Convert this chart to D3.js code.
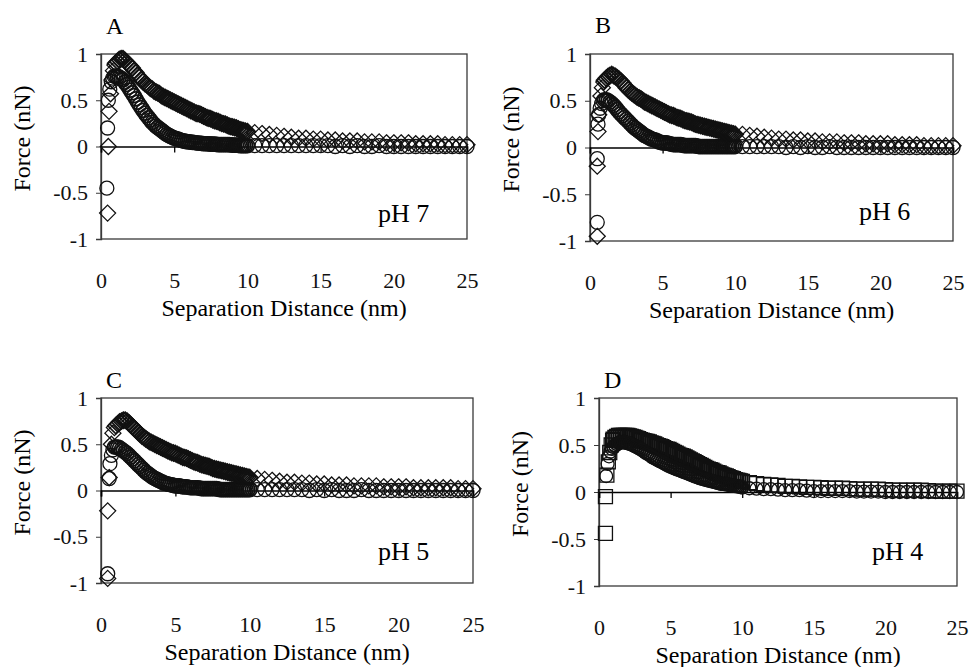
<!DOCTYPE html>
<html>
<head>
<meta charset="utf-8">
<script src="https://cdn.jsdelivr.net/npm/d3@7"></script>
<style>
  body { margin: 0; background: #fff; }
</style>
</head>
<body>
<div id="chart"></div>
<script>
// Shared separation distances (nm) for the dense part and the tail of each curve
var distDense = [1.000,1.125,1.250,1.375,1.500,1.625,1.750,1.875,2.000,2.125,
    2.250,2.375,2.500,2.625,2.750,2.875,3.000,3.125,3.250,3.375,
    3.500,3.625,3.750,3.875,4.000,4.125,4.250,4.375,4.500,4.625,
    4.750,4.875,5.000,5.125,5.250,5.375,5.500,5.625,5.750,5.875,
    6.000,6.125,6.250,6.375,6.500,6.625,6.750,6.875,7.000,7.125,
    7.250,7.375,7.500,7.625,7.750,7.875,8.000,8.125,8.250,8.375,
    8.500,8.625,8.750,8.875,9.000,9.125,9.250,9.375,9.500,9.625,
    9.750,9.875,10.000];
var distTail = [10.5,11,11.5,12,12.5,13,13.5,14,14.5,15,15.5,16,16.5,17,17.5,18,18.5,19,19.5,20,20.5,21,21.5,22,22.5,23,23.5,24,24.5,25];

var xTicks = [0, 5, 10, 15, 20, 25];
var yTicks = [-1, -0.5, 0, 0.5, 1];
var panelLetters = ["A", "B", "C", "D"];
var phLabels = ["pH 7", "pH 6", "pH 5", "pH 4"];

// pH 7 (A)
var aDiaRise = [[0.45,-0.72],[0.50,0.00],[0.55,0.38],[0.65,0.57],[0.75,0.72],[0.85,0.82],[0.95,0.88]];
var aDiaDense = [0.90,0.92,0.94,0.95,0.95,0.93,0.91,0.89,0.87,0.85,
    0.82,0.80,0.77,0.75,0.72,0.70,0.68,0.67,0.65,0.63,
    0.62,0.60,0.59,0.58,0.57,0.55,0.54,0.53,0.52,0.51,
    0.50,0.49,0.48,0.47,0.46,0.45,0.44,0.43,0.42,0.41,
    0.40,0.39,0.38,0.37,0.36,0.355,0.35,0.34,0.33,0.32,
    0.31,0.305,0.30,0.29,0.28,0.275,0.27,0.26,0.25,0.245,
    0.24,0.23,0.22,0.215,0.21,0.205,0.20,0.19,0.18,0.175,
    0.17,0.165,0.16];
var aDiaTail = [0.15,0.14,0.13,0.12,0.11,0.10,0.09,0.09,0.08,0.08,0.07,0.07,0.06,0.06,0.06,0.05,0.05,0.05,0.04,0.04,0.04,0.04,0.03,0.03,0.03,0.03,0.02,0.02,0.02,0.02];
var aCirRise = [[0.40,-0.45],[0.45,0.20],[0.50,0.50],[0.60,0.62],[0.70,0.70],[0.80,0.74],[0.90,0.76]];
var aCirDense = [0.76,0.755,0.75,0.735,0.72,0.695,0.67,0.64,0.61,0.58,
    0.55,0.515,0.48,0.45,0.42,0.39,0.36,0.335,0.31,0.285,
    0.26,0.24,0.22,0.205,0.19,0.175,0.16,0.145,0.13,0.12,
    0.11,0.10,0.09,0.085,0.08,0.073,0.065,0.06,0.055,0.053,
    0.05,0.048,0.045,0.043,0.04,0.038,0.035,0.033,0.03,0.03,
    0.03,0.028,0.025,0.025,0.025,0.023,0.02,0.02,0.02,0.02,
    0.02,0.02,0.02,0.018,0.015,0.015,0.015,0.013,0.01,0.01,
    0.01,0.01,0.01];
var aCirTail = [0.01,0.01,0.01,0.01,0.01,0.01,0.01,0.01,0.01,0.01,0.01,0.00,0.01,0.00,0.01,0.00,0.00,0.01,0.00,0.00,0.00,0.00,0.00,0.00,0.00,0.00,0.00,0.00,0.00,0.00];

// pH 6 (B)
var bDiaRise = [[0.50,-0.95],[0.50,-0.20],[0.55,0.17],[0.60,0.35],[0.75,0.55],[0.85,0.64],[0.95,0.70]];
var bDiaDense = [0.72,0.74,0.76,0.77,0.78,0.77,0.76,0.745,0.73,0.71,
    0.69,0.665,0.64,0.62,0.60,0.585,0.57,0.555,0.54,0.53,
    0.52,0.505,0.49,0.48,0.47,0.46,0.45,0.44,0.43,0.42,
    0.41,0.40,0.39,0.38,0.37,0.36,0.35,0.345,0.34,0.33,
    0.32,0.315,0.31,0.30,0.29,0.285,0.28,0.275,0.27,0.26,
    0.25,0.245,0.24,0.235,0.23,0.225,0.22,0.215,0.21,0.205,
    0.20,0.195,0.19,0.185,0.18,0.175,0.17,0.165,0.16,0.155,
    0.15,0.145,0.14];
var bDiaTail = [0.14,0.13,0.12,0.11,0.10,0.09,0.09,0.08,0.08,0.07,0.07,0.06,0.06,0.06,0.05,0.05,0.05,0.04,0.04,0.04,0.04,0.03,0.03,0.03,0.03,0.02,0.02,0.02,0.02,0.02];
var bCirRise = [[0.50,-0.80],[0.50,-0.12],[0.55,0.25],[0.60,0.35],[0.70,0.42],[0.80,0.47],[0.90,0.50]];
var bCirDense = [0.51,0.51,0.50,0.485,0.47,0.45,0.43,0.405,0.38,0.36,
    0.34,0.32,0.30,0.28,0.26,0.24,0.22,0.205,0.19,0.175,
    0.16,0.145,0.13,0.12,0.11,0.10,0.09,0.085,0.08,0.07,
    0.06,0.055,0.05,0.05,0.05,0.045,0.04,0.035,0.03,0.03,
    0.03,0.03,0.03,0.025,0.02,0.02,0.02,0.02,0.02,0.02,
    0.02,0.015,0.01,0.01,0.01,0.01,0.01,0.01,0.01,0.01,
    0.01,0.01,0.01,0.01,0.01,0.01,0.01,0.01,0.01,0.01,
    0.01,0.01,0.01];
var bCirTail = [0.01,0.01,0.01,0.01,0.01,0.01,0.00,0.01,0.00,0.01,0.00,0.00,0.01,0.00,0.00,0.00,0.00,0.00,0.00,0.00,0.00,0.00,0.00,0.00,0.00,0.00,0.00,0.00,0.00,0.00];

// pH 5 (C)
var cDiaRise = [[0.45,-0.95],[0.45,-0.22],[0.55,0.14],[0.70,0.50],[0.80,0.62],[0.90,0.68]];
var cDiaDense = [0.70,0.72,0.74,0.75,0.76,0.76,0.75,0.73,0.71,0.69,
    0.67,0.65,0.63,0.61,0.59,0.575,0.56,0.545,0.53,0.52,
    0.51,0.50,0.49,0.48,0.47,0.46,0.45,0.44,0.43,0.42,
    0.41,0.405,0.40,0.39,0.38,0.37,0.36,0.355,0.35,0.34,
    0.33,0.32,0.31,0.305,0.30,0.29,0.28,0.275,0.27,0.265,
    0.26,0.25,0.24,0.235,0.23,0.225,0.22,0.215,0.21,0.205,
    0.20,0.195,0.19,0.185,0.18,0.175,0.17,0.165,0.16,0.155,
    0.15,0.145,0.14];
var cDiaTail = [0.13,0.12,0.11,0.10,0.09,0.09,0.08,0.08,0.07,0.07,0.06,0.06,0.06,0.05,0.05,0.05,0.05,0.04,0.04,0.04,0.04,0.03,0.03,0.03,0.03,0.03,0.03,0.02,0.02,0.02];
var cCirRise = [[0.45,-0.90],[0.55,0.13],[0.60,0.29],[0.70,0.38],[0.80,0.44],[0.90,0.47]];
var cCirDense = [0.47,0.47,0.46,0.445,0.43,0.415,0.40,0.38,0.36,0.34,
    0.32,0.30,0.28,0.26,0.24,0.22,0.20,0.185,0.17,0.155,
    0.14,0.13,0.12,0.11,0.10,0.09,0.08,0.075,0.07,0.065,
    0.06,0.055,0.05,0.05,0.05,0.045,0.04,0.04,0.04,0.035,
    0.03,0.03,0.03,0.03,0.03,0.025,0.02,0.02,0.02,0.02,
    0.02,0.02,0.02,0.02,0.02,0.015,0.01,0.01,0.01,0.01,
    0.01,0.01,0.01,0.01,0.01,0.01,0.01,0.01,0.01,0.01,
    0.01,0.01,0.01];
var cCirTail = [0.01,0.01,0.01,0.01,0.01,0.01,0.01,0.00,0.01,0.00,0.01,0.00,0.00,0.00,0.01,0.00,0.00,0.00,0.00,0.00,0.00,0.00,0.00,0.00,0.00,0.00,0.00,0.00,0.00,0.00];

// pH 4 (D)
var dSqRise = [[0.45,-0.44],[0.45,-0.05],[0.55,0.18],[0.65,0.32],[0.75,0.42],[0.85,0.50],[0.95,0.55]];
var dSqDense = [0.56,0.58,0.59,0.60,0.60,0.60,0.60,0.60,0.60,0.595,
    0.59,0.585,0.58,0.57,0.565,0.555,0.55,0.545,0.54,0.535,
    0.53,0.52,0.515,0.51,0.50,0.49,0.485,0.48,0.47,0.46,
    0.455,0.45,0.44,0.43,0.42,0.41,0.40,0.39,0.385,0.38,
    0.37,0.36,0.35,0.34,0.33,0.32,0.31,0.30,0.29,0.28,
    0.27,0.26,0.25,0.24,0.235,0.23,0.22,0.21,0.205,0.20,
    0.19,0.18,0.175,0.17,0.16,0.15,0.145,0.14,0.13,0.125,
    0.12,0.115,0.11];
var dSqTail = [0.10,0.09,0.08,0.075,0.07,0.06,0.06,0.055,0.05,0.05,0.045,0.04,0.04,0.04,0.035,0.03,0.03,0.03,0.03,0.025,0.02,0.02,0.02,0.02,0.02,0.015,0.01,0.01,0.01,0.01];
var dCirRise = [[0.50,0.17],[0.60,0.30],[0.70,0.38],[0.80,0.43],[0.90,0.46]];
var dCirDense = [0.48,0.495,0.51,0.52,0.53,0.53,0.53,0.525,0.52,0.515,
    0.51,0.50,0.49,0.48,0.47,0.46,0.45,0.435,0.42,0.41,
    0.40,0.385,0.37,0.36,0.35,0.34,0.33,0.32,0.31,0.30,
    0.29,0.28,0.27,0.263,0.255,0.248,0.24,0.233,0.225,0.218,
    0.21,0.203,0.195,0.188,0.18,0.173,0.165,0.158,0.15,0.145,
    0.14,0.135,0.13,0.125,0.12,0.115,0.11,0.105,0.10,0.095,
    0.09,0.088,0.085,0.083,0.08,0.075,0.07,0.068,0.065,0.063,
    0.06,0.055,0.05];
var dCirTail = [0.04,0.035,0.03,0.03,0.025,0.02,0.02,0.02,0.015,0.01,0.01,0.01,0.01,0.01,0.01,0.005,0.005,0.005,0.005,0.00,0.00,0.00,0.00,0.00,0.00,0.00,0.00,0.00,0.00,0.00];

var width = 969, height = 667;
var serif = "'Liberation Serif', 'Times New Roman', Times, serif";

var svg = d3.select("#chart").append("svg")
    .attr("width", width)
    .attr("height", height)
    .style("font-family", serif);
svg.append("rect").attr("width", width).attr("height", height).attr("fill", "#fff");

//Join a rise list of [x, y] with the dense and tail values
function buildSeries(rise, dense, tail) {
    var pts = rise.map(function (p) { return {x: p[0], y: p[1], w: 1.3}; });
    distDense.forEach(function (d, i) { pts.push({x: d, y: dense[i], w: 1.7}); });
    distTail.forEach(function (d, i) { pts.push({x: d, y: tail[i], w: 1.3}); });
    return pts;
}

//Box positions (left, top, right, bottom) and label offsets per panel
var panels = [
    {L: 101, T: 54, R: 467, B: 239, letterY: -20, phX: -89, phY: -17,
     series: [{shape: "circle", data: buildSeries(aCirRise, aCirDense, aCirTail)},
              {shape: "diamond", data: buildSeries(aDiaRise, aDiaDense, aDiaTail)}]},
    {L: 590, T: 54, R: 953, B: 241, letterY: -21, phX: -94, phY: -21,
     series: [{shape: "circle", data: buildSeries(bCirRise, bCirDense, bCirTail)},
              {shape: "diamond", data: buildSeries(bDiaRise, bDiaDense, bDiaTail)}]},
    {L: 101, T: 398, R: 473, B: 583, letterY: -10, phX: -95, phY: -23,
     series: [{shape: "circle", data: buildSeries(cCirRise, cCirDense, cCirTail)},
              {shape: "diamond", data: buildSeries(cDiaRise, cDiaDense, cDiaTail)}]},
    {L: 599, T: 398, R: 957, B: 586, letterY: -10, phX: -85, phY: -26,
     series: [{shape: "square", data: buildSeries(dSqRise, dSqDense, dSqTail)},
              {shape: "circle", r: 6.5, data: buildSeries(dCirRise, dCirDense, dCirTail)}]}
];

function diamondPath(s) {
    return "M0," + (-s) + "L" + s + ",0L0," + s + "L" + (-s) + ",0Z";
}

panels.forEach(function (p, idx) {
    var g = svg.append("g");
    var x = d3.scaleLinear().domain([0, 25]).range([p.L, p.R]);
    var y = d3.scaleLinear().domain([-1, 1]).range([p.B, p.T]);

    //Plot box
    g.append("rect")
        .attr("x", p.L).attr("y", p.T)
        .attr("width", p.R - p.L).attr("height", p.B - p.T)
        .attr("fill", "none").attr("stroke", "#3a3a3a").attr("stroke-width", 1.3);

    //Y axis
    var yAxis = g.append("g")
        .attr("transform", "translate(" + p.L + ",0)")
        .call(d3.axisLeft(y).tickValues(yTicks).tickSize(5).tickPadding(8)
            .tickFormat(function (d) { return String(d); }));
    yAxis.attr("font-family", null).attr("font-size", null);
    yAxis.select(".domain").attr("stroke", "#3a3a3a").attr("stroke-width", 1.3);
    yAxis.selectAll("line").attr("stroke", "#3a3a3a");
    yAxis.selectAll("text").style("font-family", serif).style("font-size", "22px").attr("fill", "#111");

    //Zero line with tick marks
    var zeroAxis = g.append("g")
        .attr("transform", "translate(0," + y(0) + ")")
        .call(d3.axisBottom(x).tickValues(xTicks).tickSize(6).tickFormat(""));
    zeroAxis.select(".domain").attr("stroke", "#000").attr("stroke-width", 1.6);
    zeroAxis.selectAll("line").attr("stroke", "#000").attr("stroke-width", 1.3);

    //Tick labels sit below the box
    var xLab = g.append("g")
        .attr("transform", "translate(0," + p.B + ")")
        .call(d3.axisBottom(x).tickValues(xTicks).tickSize(0).tickPadding(33));
    xLab.attr("font-family", null).attr("font-size", null);
    xLab.select(".domain").remove();
    xLab.selectAll("text").style("font-family", serif).style("font-size", "22px").attr("fill", "#111");

    //Axis titles
    g.append("text")
        .attr("x", (p.L + p.R) / 2).attr("y", p.B + 77)
        .attr("text-anchor", "middle")
        .style("font-family", serif)
        .style("font-size", "24px")
        .text("Separation Distance (nm)");
    g.append("text")
        .attr("transform", "translate(" + (p.L - 71) + "," + ((p.T + p.B) / 2 - 8) + ") rotate(-90)")
        .attr("text-anchor", "middle")
        .style("font-family", serif)
        .style("font-size", "24px")
        .text("Force (nN)");

    //Panel letter and pH tag
    g.append("text")
        .attr("x", p.L + 5).attr("y", p.T + p.letterY)
        .style("font-family", serif)
        .style("font-size", "24px")
        .text(panelLetters[idx]);
    g.append("text")
        .attr("x", p.R + p.phX).attr("y", p.B + p.phY)
        .style("font-family", serif)
        .style("font-size", "26px")
        .text(phLabels[idx]);

    //Markers
    p.series.forEach(function (s) {
        var pts = s.data.filter(function (d) { return d.y !== undefined; });
        var sel = g.append("g").selectAll("path").data(pts).enter().append("path")
            .attr("transform", function (d) { return "translate(" + x(d.x) + "," + y(d.y) + ")"; })
            .attr("fill", "none")
            .attr("stroke", "#111")
            .attr("stroke-width", function (d) { return d.w; });
        if (s.shape === "circle") {
            var r = s.r || 7;
            sel.attr("d", d3.symbol(d3.symbolCircle, Math.PI * r * r)());
        } else if (s.shape === "diamond") {
            sel.attr("d", diamondPath(8));
        } else {
            sel.attr("d", d3.symbol(d3.symbolSquare, 14 * 14)());
        }
    });
});
</script>
</body>
</html>
